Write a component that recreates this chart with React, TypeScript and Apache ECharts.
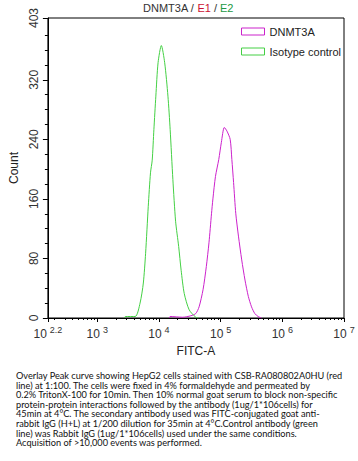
import React, { useEffect, useRef } from "react";
import * as echarts from "echarts";

// x values are log10(FITC-A)
const dnmt3aLogX = [4.17, 4.18, 4.385, 4.517, 4.597, 4.651, 4.715, 4.768, 4.811, 4.852, 4.875, 4.916, 4.97, 5.012, 5.06, 5.103, 5.155, 5.182, 5.21, 5.246, 5.289, 5.342, 5.395, 5.449, 5.501, 5.554, 5.608, 5.661];
const dnmt3aCount = [0, 2, 1, 3, 6, 15, 38, 69, 101, 140, 160, 190, 213, 236, 256, 251, 240, 213, 182, 140, 110, 78, 51, 29, 15, 6, 2, 0];
const isoLogX = [3.44, 3.455, 3.615, 3.694, 3.747, 3.784, 3.827, 3.863, 3.891, 3.918, 3.95, 3.986, 4.039, 4.093, 4.146, 4.182, 4.226, 4.27, 4.32, 4.36, 4.41, 4.49, 4.597, 4.64];
const isoCount = [0, 2, 2, 20, 47, 87, 150, 195, 212, 253, 298, 343, 366, 343, 298, 253, 186, 130, 96, 64, 33, 11, 1, 0];

const xMajorTicks = [2.2, 3, 4, 5, 6, 7];
const yMajorTicks = [0, 80, 160, 240, 320, 403];
const seriesNames = ["DNMT3A", "Isotype control"];
const captionLines = [
  "Overlay Peak curve showing HepG2 cells stained with CSB-RA080802A0HU (red",
  "line) at 1:100. The cells were fixed in 4% formaldehyde and permeated by",
  "0.2% TritonX-100 for 10min. Then 10% normal goat serum to block non-specific",
  "protein-protein interactions followed by the antibody (1ug/1*106cells) for",
  "45min at 4°C. The secondary antibody used was FITC-conjugated goat anti-",
  "rabbit IgG (H+L) at 1/200 dilution for 35min at 4°C.Control antibody (green",
  "line) was Rabbit IgG (1ug/1*106cells) used under the same conditions.",
  "Acquisition of >10,000 events was performed.",
];

const MAGENTA = "#cc22cc";
const GREEN = "#44d044";
const FONT = "Liberation Sans";

export default function App() {
  const ref = useRef<HTMLDivElement>(null);
  useEffect(() => {
    document.body.style.margin = "0";
    const chart = echarts.init(ref.current!, null, { renderer: "svg" });
    const xMinor: number[] = [];
    for (let n = 2; n < 7; n++) {
      for (let k = 2; k <= 9; k++) {
        const v = n + Math.log10(k);
        if (v > 2.2 && v < 7) xMinor.push(v);
      }
    }
    const yMinor: number[] = [];
    for (let v = 20; v < 403; v += 20) if (v % 80 !== 0) yMinor.push(v);

    const pair = (xs: number[], ys: number[]) => xs.map((x, i) => [x, ys[i]]);

    chart.setOption({
      animation: false,
      textStyle: { fontFamily: FONT },
      grid: { left: 43, right: 14, top: 18, bottom: 143, show: true, borderColor: "#000", borderWidth: 1 },
      graphic: [
        {
          type: "text",
          left: 143,
          top: 2,
          style: {
            text: "{a|DNMT3A / }{r|E1}{a| / }{g|E2}",
            rich: {
              a: { fill: "#333", fontSize: 11, fontFamily: FONT },
              r: { fill: "#cc1133", fontSize: 11, fontFamily: FONT },
              g: { fill: "#229944", fontSize: 11, fontFamily: FONT },
            },
          },
        },
        ...captionLines.map((t, i) => ({
          type: "text",
          left: 16,
          top: 371 + i * 9.6,
          style: { text: t, fill: "#111", fontSize: 9.2, fontFamily: "Lato" },
        })),
      ],
      legend: {
        orient: "vertical",
        left: 236,
        top: 21,
        itemWidth: 23,
        itemHeight: 7,
        itemGap: 9,
        icon: "rect",
        textStyle: { fontSize: 11, color: "#222", fontFamily: FONT },
        data: [
          { name: seriesNames[0], itemStyle: { color: "rgba(0,0,0,0)", borderColor: MAGENTA, borderWidth: 1 } },
          { name: seriesNames[1], itemStyle: { color: "rgba(0,0,0,0)", borderColor: GREEN, borderWidth: 1 } },
        ],
      },
      xAxis: [
        {
          type: "value",
          min: 2.2,
          max: 7,
          name: "FITC-A",
          nameLocation: "middle",
          nameGap: 27,
          nameTextStyle: { fontSize: 12, color: "#222", fontFamily: FONT },
          splitLine: { show: false },
          axisLine: { lineStyle: { color: "#000" } },
          axisTick: { customValues: xMajorTicks, length: 4, lineStyle: { color: "#000" } },
          axisLabel: {
            customValues: xMajorTicks,
            margin: 6,
            formatter: (v: number) => `{b|10}{s|${v === 2.2 ? "2.2" : Math.round(v)}}`,
            rich: {
              b: { fontSize: 12, color: "#333", fontFamily: FONT, padding: [4, 0, 0, 0] },
              s: { fontSize: 9, color: "#333", fontFamily: FONT, padding: [0, 0, 4, 3] },
            },
          },
        },
        {
          type: "value",
          min: 2.2,
          max: 7,
          position: "bottom",
          splitLine: { show: false },
          axisLine: { show: false },
          axisTick: { customValues: xMinor, length: 2, lineStyle: { color: "#000" } },
          axisLabel: { show: false },
        },
      ],
      yAxis: [
        {
          type: "value",
          min: 0,
          max: 403,
          name: "Count",
          nameLocation: "middle",
          nameGap: 25,
          nameTextStyle: { fontSize: 12, color: "#222", fontFamily: FONT },
          splitLine: { show: false },
          axisLine: { lineStyle: { color: "#000" } },
          axisTick: { customValues: yMajorTicks, length: 5, lineStyle: { color: "#000" } },
          axisLabel: { customValues: yMajorTicks, rotate: 90, margin: 8, fontSize: 12, color: "#333", fontFamily: FONT },
        },
        {
          type: "value",
          min: 0,
          max: 403,
          position: "left",
          splitLine: { show: false },
          axisLine: { show: false },
          axisTick: { customValues: yMinor, length: 3, lineStyle: { color: "#000" } },
          axisLabel: { show: false },
        },
      ],
      series: [
        {
          name: seriesNames[0],
          type: "line",
          showSymbol: false,
          smooth: 0.25,
          data: pair(dnmt3aLogX, dnmt3aCount),
          lineStyle: { color: MAGENTA, width: 1 },
          itemStyle: { color: MAGENTA },
        },
        {
          name: seriesNames[1],
          type: "line",
          showSymbol: false,
          smooth: 0.25,
          data: pair(isoLogX, isoCount),
          lineStyle: { color: GREEN, width: 1 },
          itemStyle: { color: GREEN },
        },
      ],
    });
    return () => chart.dispose();
  }, []);
  return <div ref={ref} style={{ width: 358, height: 461 }} />;
}
